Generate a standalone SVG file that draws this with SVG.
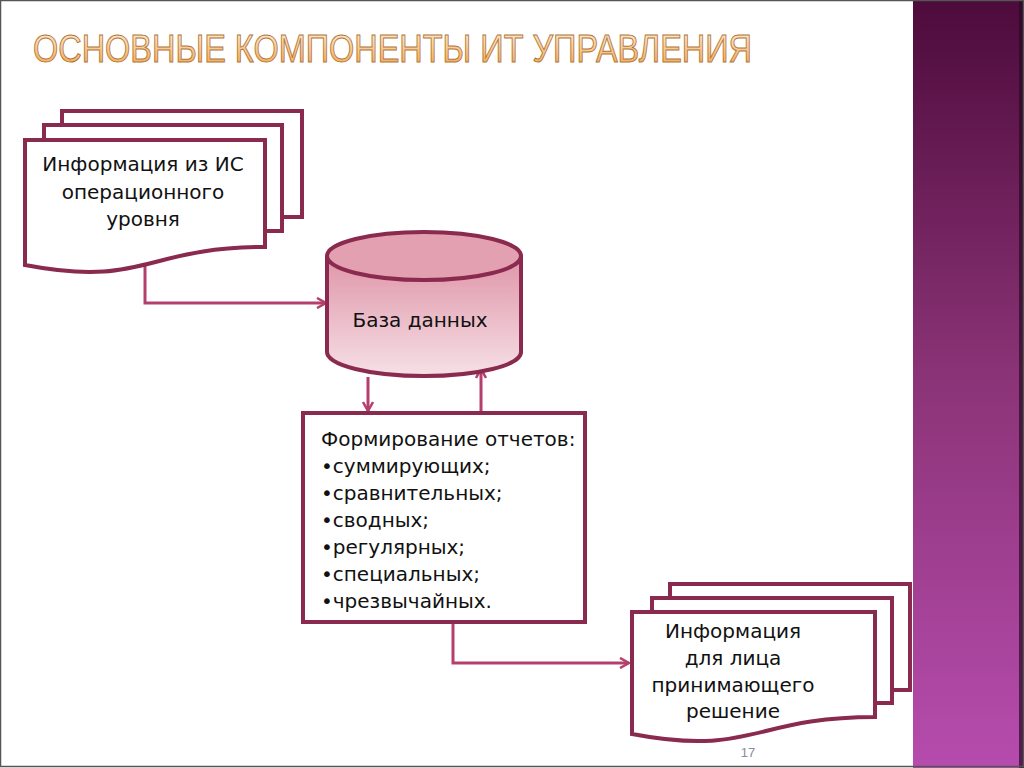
<svg xmlns="http://www.w3.org/2000/svg" width="1024" height="768" viewBox="0 0 1024 768">
<defs>
<style>
.node{fill:#ffffff;stroke:#8a2a4e;stroke-width:4;stroke-linejoin:miter}
.lbl{font-family:"DejaVu Sans","Liberation Sans",sans-serif;font-size:20px;fill:#111}
.conn{fill:none;stroke:#b53f6c;stroke-width:3}
</style>
<linearGradient id="bar" x1="0" y1="0" x2="0" y2="1">
<stop offset="0" stop-color="#4d0b3b"/>
<stop offset="0.5" stop-color="#8c3478"/>
<stop offset="1" stop-color="#b64cae"/>
</linearGradient>
<linearGradient id="title" x1="0" y1="0" x2="0" y2="1">
<stop offset="0" stop-color="#fff3df"/>
<stop offset="1" stop-color="#f3a345"/>
</linearGradient>
<linearGradient id="cyl" x1="0" y1="0" x2="0" y2="1">
<stop offset="0" stop-color="#df95a8"/>
<stop offset="1" stop-color="#f6e0e6"/>
</linearGradient>
<marker id="arr" viewBox="0 0 12 12" refX="10" refY="6" markerWidth="12" markerHeight="12" markerUnits="userSpaceOnUse" orient="auto">
<path d="M1,1 L10,6 L1,11" fill="none" stroke="#b53f6c" stroke-width="2.5"/>
</marker>
</defs>
<rect x="0" y="0" width="1024" height="768" fill="#ffffff"/>
<rect x="913" y="0" width="111" height="768" fill="url(#bar)"/>
<rect x="1019" y="0" width="5" height="768" fill="#2a0a22" opacity="0.7"/>
<rect x="0.5" y="0.5" width="1023" height="766" fill="none" stroke="#555" stroke-width="1.5"/>
<text x="33" y="62" textLength="719" lengthAdjust="spacingAndGlyphs" font-family="'Liberation Sans','DejaVu Sans',sans-serif" font-size="39" fill="url(#title)" stroke="#b0753c" stroke-width="1">ОСНОВНЫЕ КОМПОНЕНТЫ ИТ УПРАВЛЕНИЯ</text>

<g id="connectors">
<path class="conn" d="M145,264 V303 H326" marker-end="url(#arr)"/>
<path class="conn" d="M368,377 V411" marker-end="url(#arr)"/>
<path class="conn" d="M481,411 V369" marker-end="url(#arr)"/>
<path class="conn" d="M453,624 V663 H629" marker-end="url(#arr)"/>
</g>

<g id="doc-operational">
<rect class="node" x="62" y="111" width="240" height="106"/>
<rect class="node" x="44" y="125" width="238" height="106"/>
<path class="node" d="M25,140 H265 V247 C145,247 145,288 25,265 Z"/>
<text class="lbl" x="143" y="171" text-anchor="middle">Информация из ИС</text>
<text class="lbl" x="143" y="199" text-anchor="middle">операционного</text>
<text class="lbl" x="143" y="226" text-anchor="middle">уровня</text>
</g>

<g id="database">
<path d="M327,256 V352 A97,24 0 0 0 521,352 V256" fill="url(#cyl)" stroke="#8a2a4e" stroke-width="4"/>
<ellipse cx="424" cy="256" rx="97" ry="24" fill="#e2a0b1" stroke="#8a2a4e" stroke-width="4"/>
<text class="lbl" x="420" y="327" text-anchor="middle" font-size="22">База данных</text>
</g>

<g id="reports">
<rect class="node" x="303" y="413" width="282" height="209"/>
<text class="lbl" font-size="19">
<tspan x="321" y="446">Формирование отчетов:</tspan>
<tspan x="321" y="473">•суммирующих;</tspan>
<tspan x="321" y="500">•сравнительных;</tspan>
<tspan x="321" y="527">•сводных;</tspan>
<tspan x="321" y="554">•регулярных;</tspan>
<tspan x="321" y="581">•специальных;</tspan>
<tspan x="321" y="608">•чрезвычайных.</tspan>
</text>
</g>

<g id="doc-decision">
<rect class="node" x="670" y="584" width="240" height="106"/>
<rect class="node" x="652" y="598" width="240" height="105"/>
<path class="node" d="M632,612 H875 V717 C753,717 753,757 632,734 Z"/>
<text class="lbl" x="733" y="638" text-anchor="middle">Информация</text>
<text class="lbl" x="733" y="665" text-anchor="middle">для лица</text>
<text class="lbl" x="733" y="692" text-anchor="middle">принимающего</text>
<text class="lbl" x="733" y="718" text-anchor="middle">решение</text>
</g>

<text x="748" y="757" text-anchor="middle" font-family="'Liberation Sans',sans-serif" font-size="13" fill="#8a8aa0">17</text>
</svg>
